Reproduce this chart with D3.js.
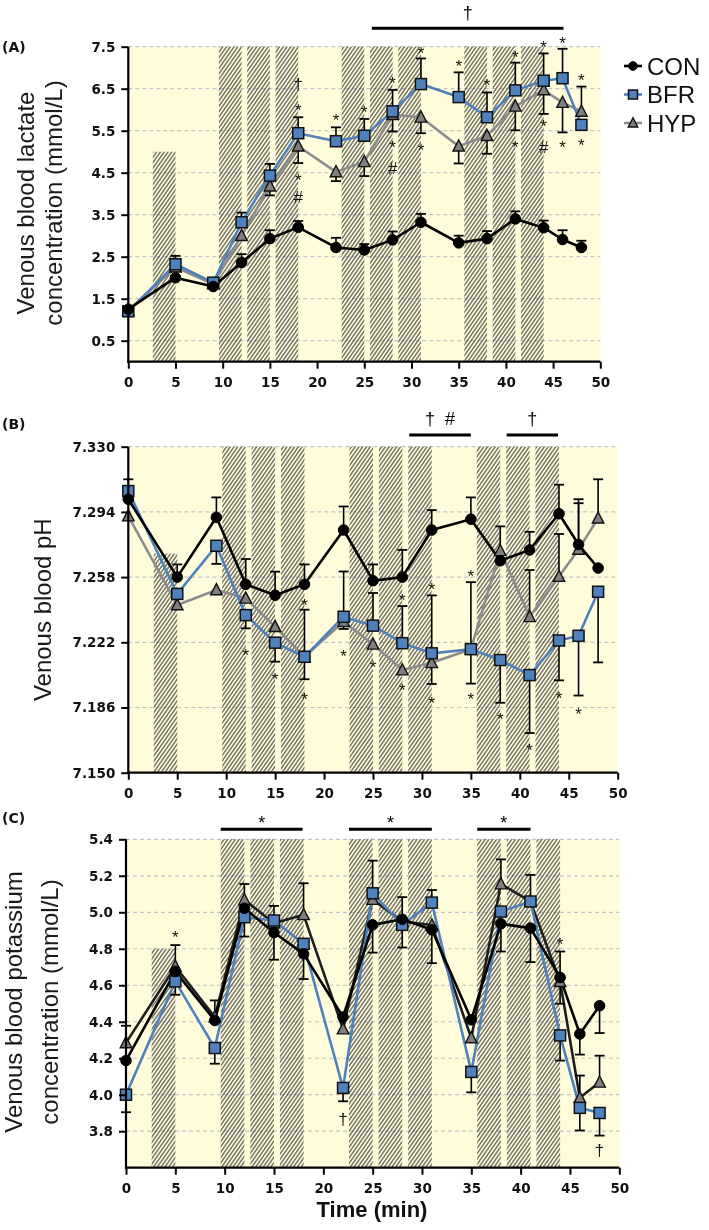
<!DOCTYPE html>
<html><head><meta charset="utf-8">
<script src="https://cdn.jsdelivr.net/npm/d3@7"></script>
<style>body{margin:0;background:#fff} svg{display:block;will-change:transform}</style>
</head><body>
<script>
// ---------------- DATA ----------------
const times = [0, 5, 9, 12, 15, 18, 22, 25, 28, 31, 35, 38, 41, 44, 46, 48];
const xTicks = [0, 5, 10, 15, 20, 25, 30, 35, 40, 45, 50];
const seriesNames = ["CON", "BFR", "HYP"];

// exercise sets (end minute of each hatched period) and their duration in minutes
const setEnds = [5, 12, 15, 18, 25, 28, 31, 38, 41, 44];
const setDuration = 2.4;

// (A) lactate, mmol/L ; errors signed: + drawn up, - drawn down, 0 none
const lactateTicks = [0.5, 1.5, 2.5, 3.5, 4.5, 5.5, 6.5, 7.5];
const conLactate = [1.25, 2.00, 1.79, 2.36, 2.93, 3.20, 2.72, 2.66, 2.90, 3.32, 2.83, 2.93, 3.40, 3.19, 2.91, 2.72];
const conLactateErr = [0, 0, 0, 0.20, 0.20, 0.15, 0.23, 0.14, 0.20, 0.20, 0.17, 0.18, 0.18, 0.17, 0.22, 0.16];
const bfrLactate = [1.20, 2.32, 1.88, 3.32, 4.43, 5.44, 5.25, 5.38, 5.96, 6.61, 6.30, 5.82, 6.46, 6.69, 6.75, 5.64];
const bfrLactateErr = [0, 0.20, 0.08, 0.23, 0.28, 0.38, 0.33, 0.40, 0.51, 0.61, 0.59, 0.59, 0.66, 0.65, 0.70, 0];
const hypLactate = [1.22, 2.25, 1.85, 3.00, 4.18, 5.13, 4.52, 4.76, 5.88, 5.82, 5.13, 5.38, 6.08, 6.47, 6.17, 5.96];
const hypLactateErr = [0, 0, 0, 0, -0.22, -0.40, -0.22, -0.34, -0.40, -0.38, -0.41, -0.43, -0.57, -0.57, -0.71, 0.59];
const lactateFirstSetTop = 5.0;
const lactateMarks = [
  [18, 6.59, "†"], [18, 6.07, "*"], [18, 4.41, "*"], [18, 3.91, "#"],
  [22, 5.84, "*"], [25, 6.04, "*"],
  [28, 6.73, "*"], [28, 5.21, "*"], [28, 4.62, "#"],
  [31, 7.44, "*"], [31, 5.13, "*"], [35, 7.14, "*"], [38, 6.67, "*"],
  [41, 7.34, "*"], [41, 5.21, "*"],
  [44, 7.58, "*"], [44, 5.70, "*"], [44, 5.12, "#"],
  [46, 7.68, "*"], [46, 5.19, "*"], [48, 6.79, "*"], [48, 5.25, "*"]
];
const lactateSigFrom = [25.8], lactateSigTo = [46.1], lactateSigLabel = ["†"];

// (B) pH
const phTicks = [7.150, 7.186, 7.222, 7.258, 7.294, 7.330];
const conPh = [7.301, 7.258, 7.291, 7.254, 7.248, 7.254, 7.284, 7.256, 7.258, 7.284, 7.290, 7.267, 7.273, 7.293, 7.276, 7.263];
const conPhErr = [0.011, 0.007, 0.011, 0.014, 0.013, 0.011, 0.013, 0.009, 0.015, 0.011, 0.012, 0.019, 0.010, 0.016, 0.025, 0];
const bfrPh = [7.3055, 7.2487, 7.2753, 7.237, 7.2218, 7.214, 7.2361, 7.2312, 7.2215, 7.2159, 7.2182, 7.2122, 7.2039, 7.223, 7.2256, 7.2499];
const bfrPhErr = [0, 0, -0.010, -0.0073, -0.0105, -0.0124, 0.025, 0.018, 0.0205, 0.032, 0.037, -0.0236, -0.032, -0.022, -0.033, -0.039];
const hypPh = [7.2917, 7.2426, 7.2509, 7.2463, 7.2306, 7.214, 7.2334, 7.2209, 7.2067, 7.2107, 7.2182, 7.2725, 7.2361, 7.2583, 7.2733, 7.2905];
const hypPhErr = [0, 0, 0, 0, 0, 0.026, -0.004, 0, 0, -0.0117, -0.019, 0, 0.0258, 0.0235, 0.0255, 0.0215];
const phFirstSetTop = 7.271;
const phMarks = [
  [12, 7.2168, "*"], [15, 7.204, "*"], [18, 7.2444, "*"], [18, 7.1929, "*"],
  [22, 7.2163, "*"], [25, 7.2104, "*"], [28, 7.2472, "*"], [28, 7.1975, "*"],
  [31, 7.2536, "*"], [31, 7.1905, "*"], [35, 7.2604, "*"], [35, 7.1929, "*"],
  [38, 7.1818, "*"], [41, 7.1647, "*"], [44, 7.1934, "*"], [46, 7.1846, "*"]
];
const phSigFrom = [28.7, 38.65], phSigTo = [35.0, 43.9], phSigLabel = ["†  #", "†"];

// (C) potassium, mmol/L
const potassiumTicks = [3.8, 4.0, 4.2, 4.4, 4.6, 4.8, 5.0, 5.2, 5.4];
const conK = [4.187, 4.676, 4.407, 5.022, 4.889, 4.772, 4.426, 4.931, 4.962, 4.904, 4.411, 4.937, 4.913, 4.643, 4.333, 4.488];
const conKErr = [0, 0, 0, 0, -0.149, -0.138, 0, -0.152, -0.155, -0.183, 0, -0.152, -0.186, 0.142, -0.113, -0.15];
const bfrK = [4.000, 4.621, 4.256, 4.973, 4.955, 4.827, 4.037, 5.104, 4.931, 5.053, 4.125, 5.004, 5.059, 4.325, 3.928, 3.900];
const bfrKErr = [-0.096, -0.073, -0.086, -0.106, 0.08, 0, -0.073, 0.179, 0, 0.069, -0.112, 0, 0.146, -0.138, -0.124, -0.124];
const hypK = [4.284, 4.703, 4.426, 5.068, 4.94, 4.986, 4.36, 5.07, 4.949, 4.93, 4.311, 5.155, 5.06, 4.62, 3.983, 4.068];
const hypKErr = [0.094, 0.117, 0.091, 0.087, 0, 0.173, 0, 0, 0.134, 0, 0, 0.135, 0, -0.121, 0.122, 0.146];
const kFirstSetTop = 4.8;
const kMarks = [[5, 4.886, "*"], [22, 3.864, "†"], [44, 4.849, "*"], [48, 3.69, "†"]];
const kSigFrom = [9.6, 22.6, 35.6], kSigTo = [17.9, 31.0, 41.0], kSigLabel = ["*", "*", "*"];

// ---------------- STYLE / LAYOUT ----------------
const W = 709, H = 1230;
const BG = "#fffcdc";
const BLUE = "#4f81bd";
const GREYLINE = "#8c8c8c";
const GREYMARK = "#7f7f7f";
const tickFont = "'DejaVu Sans', sans-serif";
const textFont = "'Liberation Sans', Arial, sans-serif";

const svg = d3.select("body").append("svg").attr("width", W).attr("height", H);
const defs = svg.append("defs");
const pat = defs.append("pattern").attr("id", "hatch")
  .attr("patternUnits", "userSpaceOnUse").attr("width", 3.1).attr("height", 10)
  .attr("patternTransform", "rotate(35)");
pat.append("line").attr("x1", 1.55).attr("y1", 0).attr("x2", 1.55).attr("y2", 10)
  .attr("stroke", "#262626").attr("stroke-width", 0.95);

const panels = [
  { label: "(A)", labelY: 47.5, x0: 128.3, x1: 600.3, y0: 46.7, y1: 361.7, domain: [0, 7.5],
    ticks: lactateTicks, fmt: d3.format(".1f"), firstTop: lactateFirstSetTop,
    con: conLactate, conErr: conLactateErr, bfr: bfrLactate, bfrErr: bfrLactateErr, hyp: hypLactate, hypErr: hypLactateErr,
    marks: lactateMarks, sigFrom: lactateSigFrom, sigTo: lactateSigTo, sigLabel: lactateSigLabel, sigY: 28.3,
    hypLine: GREYLINE,
    title: [["Venous blood lactate", 34], ["concentration (mmol/L)", 62]], titleCy: 203 },
  { label: "(B)", labelY: 425, x0: 128.3, x1: 617.7, y0: 446.7, y1: 772.7, domain: [7.150, 7.330],
    ticks: phTicks, fmt: d3.format(".3f"), firstTop: phFirstSetTop,
    con: conPh, conErr: conPhErr, bfr: bfrPh, bfrErr: bfrPhErr, hyp: hypPh, hypErr: hypPhErr,
    marks: phMarks, sigFrom: phSigFrom, sigTo: phSigTo, sigLabel: phSigLabel, sigY: 435,
    hypLine: GREYLINE,
    title: [["Venous blood pH", 51]], titleCy: 609.7 },
  { label: "(C)", labelY: 819, x0: 126, x1: 619.3, y0: 839.3, y1: 1167.7, domain: [3.6, 5.4],
    ticks: potassiumTicks, fmt: d3.format(".1f"), firstTop: kFirstSetTop,
    con: conK, conErr: conKErr, bfr: bfrK, bfrErr: bfrKErr, hyp: hypK, hypErr: hypKErr,
    marks: kMarks, sigFrom: kSigFrom, sigTo: kSigTo, sigLabel: kSigLabel, sigY: 829.3,
    hypLine: "#1e1e1e",
    title: [["Venous blood potassium", 22], ["concentration (mmol/L)", 58]], titleCy: 1002 }
];

function drawMarker(g, kind, cx, cy, s) {
  if (kind === "CON") {
    g.append("circle").attr("cx", cx).attr("cy", cy).attr("r", 5.3 * s)
      .attr("fill", "#000").attr("stroke", "#000").attr("stroke-width", 1);
  } else if (kind === "BFR") {
    const a = 11 * s;
    g.append("rect").attr("x", cx - a / 2).attr("y", cy - a / 2).attr("width", a).attr("height", a)
      .attr("fill", BLUE).attr("stroke", "#111").attr("stroke-width", 1.5);
  } else {
    const a = 11.5 * s;
    const pts = [[cx, cy - a * 0.55], [cx - a / 2, cy + a * 0.42], [cx + a / 2, cy + a * 0.42]];
    g.append("path").attr("d", "M" + pts.map(p => p.join(",")).join("L") + "Z")
      .attr("fill", GREYMARK).attr("stroke", "#111").attr("stroke-width", 1.4);
  }
}

const symDy = { "*": "0.57em", "†": "0.30em", "#": "0.35em" };

panels.forEach(p => {
  const x = d3.scaleLinear().domain([0, 50]).range([p.x0, p.x1]);
  const y = d3.scaleLinear().domain(p.domain).range([p.y1, p.y0]);
  const g = svg.append("g");

  // background
  g.append("rect").attr("x", p.x0).attr("y", p.y0).attr("width", p.x1 - p.x0).attr("height", p.y1 - p.y0)
    .attr("fill", BG);
  // gridlines
  g.selectAll(".grid").data(p.ticks.filter(t => t > p.domain[0] + 1e-9)).enter().append("line")
    .attr("x1", p.x0).attr("x2", p.x1).attr("y1", d => y(d)).attr("y2", d => y(d))
    .attr("stroke", "#c4c4c4").attr("stroke-width", 1.2).attr("stroke-dasharray", "4,3");
  // hatched exercise sets
  g.selectAll(".set").data(setEnds).enter().append("rect")
    .attr("x", d => x(d - setDuration)).attr("width", d => x(d) - x(d - setDuration))
    .attr("y", (d, i) => i === 0 ? y(p.firstTop) : p.y0)
    .attr("height", (d, i) => p.y1 - (i === 0 ? y(p.firstTop) : p.y0))
    .attr("fill", "url(#hatch)");

  // significance bars
  p.sigFrom.forEach((f, i) => {
    g.append("line").attr("x1", x(f)).attr("x2", x(p.sigTo[i])).attr("y1", p.sigY).attr("y2", p.sigY)
      .attr("stroke", "#000").attr("stroke-width", 3);
    const lab = p.sigLabel[i];
    const isStar = lab === "*";
    g.append("text").attr("x", x((f + p.sigTo[i]) / 2)).attr("y", p.sigY - (isStar ? 11 : 15))
      .attr("dy", isStar ? "0.57em" : "0.30em")
      .attr("text-anchor", "middle").style("white-space", "pre")
      .attr("font-family", textFont).attr("font-size", 18).attr("fill", "#000").text(lab);
  });

  const series = [
    { name: "HYP", vals: p.hyp, err: p.hypErr, color: p.hypLine },
    { name: "BFR", vals: p.bfr, err: p.bfrErr, color: BLUE },
    { name: "CON", vals: p.con, err: p.conErr, color: "#000" }
  ];
  const line = d3.line().x((d, i) => x(times[i])).y(d => y(d));
  series.forEach(s => {
    g.append("path").attr("d", line(s.vals)).attr("fill", "none")
      .attr("stroke", s.color).attr("stroke-width", 2.6).attr("stroke-linejoin", "round");
  });
  series.forEach(s => {
    s.vals.forEach((v, i) => {
      const e = s.err[i];
      if (!e) return;
      const xx = x(times[i]);
      g.append("line").attr("x1", xx).attr("x2", xx).attr("y1", y(v)).attr("y2", y(v + e))
        .attr("stroke", "#000").attr("stroke-width", 1.6);
      g.append("line").attr("x1", xx - 5).attr("x2", xx + 5).attr("y1", y(v + e)).attr("y2", y(v + e))
        .attr("stroke", "#000").attr("stroke-width", 1.8);
    });
  });
  series.forEach(s => {
    s.vals.forEach((v, i) => drawMarker(g, s.name, x(times[i]), y(v), 1));
  });

  // annotation symbols
  p.marks.forEach(m => {
    g.append("text").attr("x", x(m[0])).attr("y", y(m[1])).attr("dy", symDy[m[2]])
      .attr("text-anchor", "middle").attr("font-family", textFont).attr("font-size", 17)
      .attr("fill", "#111").text(m[2]);
  });

  // axes
  const ya = g.append("g").attr("transform", `translate(${p.x0},0)`)
    .call(d3.axisLeft(y).tickValues(p.ticks).tickFormat(p.fmt).tickSize(7).tickSizeOuter(0).tickPadding(6));
  const xa = g.append("g").attr("transform", `translate(0,${p.y1})`)
    .call(d3.axisBottom(x).tickValues(xTicks).tickFormat(d3.format("d")).tickSize(7).tickSizeOuter(0).tickPadding(9));
  [ya, xa].forEach(a => {
    a.select(".domain").attr("stroke", "#000").attr("stroke-width", 2.2);
    a.selectAll(".tick line").attr("stroke", "#000").attr("stroke-width", 2);
    a.selectAll(".tick text").attr("font-family", tickFont).attr("font-weight", "bold")
      .attr("font-size", 13.5).attr("fill", "#111");
  });
  ya.select(".domain").attr("d", `M0,${p.y1 + 1}V${p.y0}`);
  xa.select(".domain").attr("d", `M${p.x0 - 1},0H${p.x1}`);

  // panel label
  svg.append("text").attr("x", 2).attr("y", p.labelY).attr("dy", "0.30em")
    .attr("font-family", tickFont).attr("font-weight", "bold").attr("font-size", 14)
    .attr("fill", "#111").text(p.label);

  // y title
  p.title.forEach(t => {
    svg.append("text").attr("transform", `translate(${t[1]},${p.titleCy}) rotate(-90)`)
      .attr("text-anchor", "middle").attr("font-family", textFont).attr("font-size", 24)
      .attr("fill", "#1a1a1a").text(t[0]);
  });
});

// x title
svg.append("text").attr("x", 372).attr("y", 1217).attr("text-anchor", "middle")
  .attr("font-family", textFont).attr("font-weight", "bold").attr("font-size", 22)
  .attr("fill", "#111").text("Time (min)");

// legend
const legendColors = { CON: "#000", BFR: BLUE, HYP: GREYLINE };
const leg = svg.append("g");
seriesNames.forEach((n, i) => {
  const cy = 66 + i * 28.5;
  leg.append("line").attr("x1", 624).attr("x2", 642).attr("y1", cy).attr("y2", cy)
    .attr("stroke", legendColors[n]).attr("stroke-width", 2.6);
  drawMarker(leg, n, 633, cy, 0.82);
  leg.append("text").attr("x", 647).attr("y", cy).attr("dy", "0.36em")
    .attr("font-family", textFont).attr("font-size", 24).attr("fill", "#111").text(n);
});
</script>
</body></html>
